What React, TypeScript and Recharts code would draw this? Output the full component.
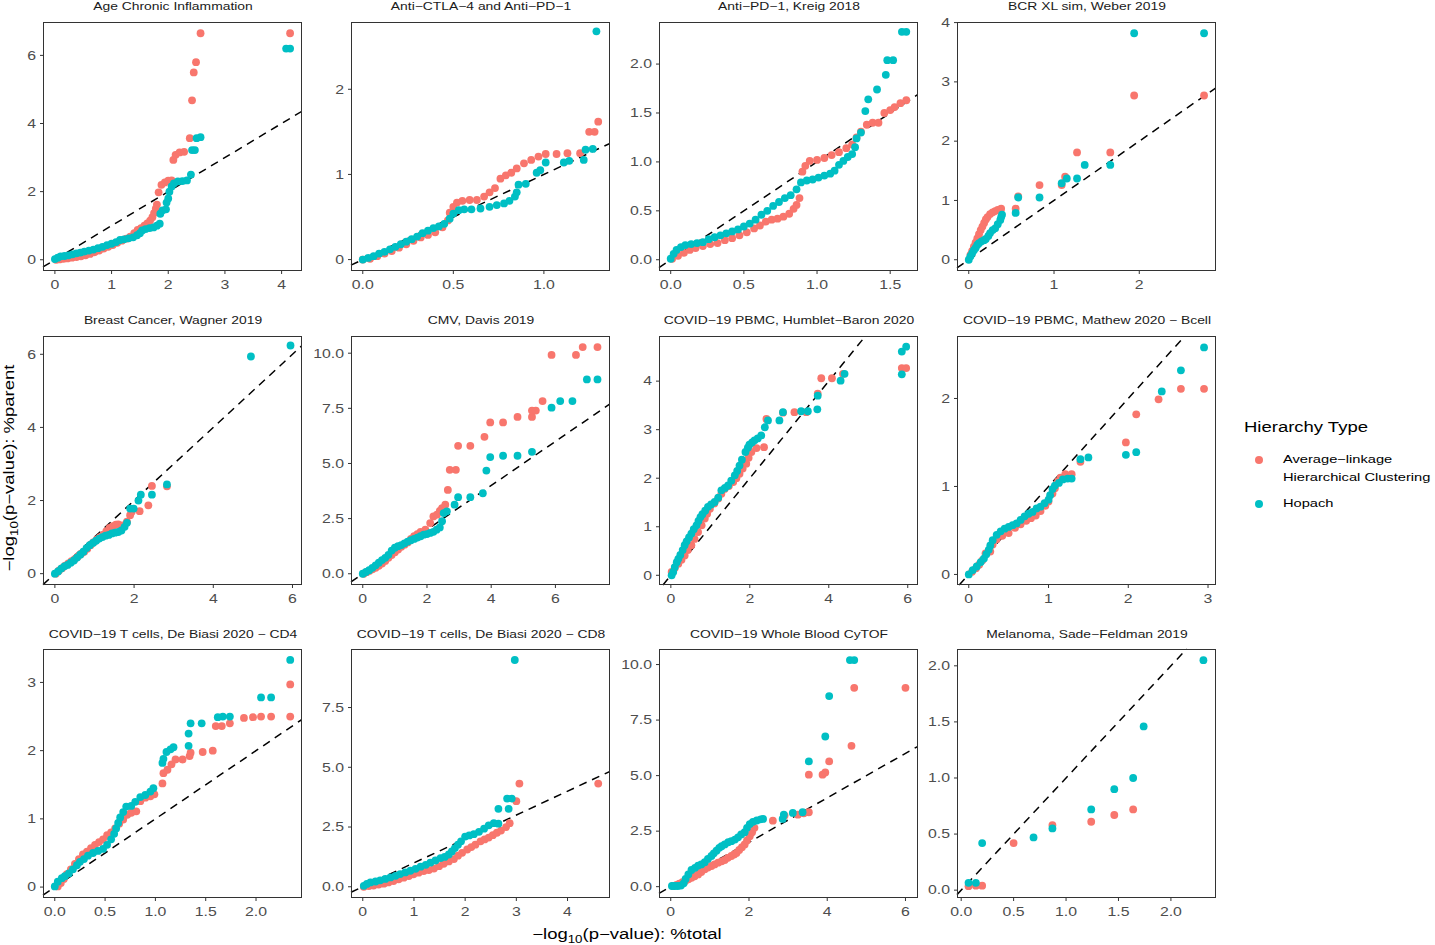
import React from 'react';
import { ScatterChart, Scatter, XAxis, YAxis, ReferenceLine } from 'recharts';

const RED = '#F8766D';
const TEAL = '#00BFC4';
const FONT = '"Liberation Sans", Arial, Helvetica, sans-serif';
const K = 1.32; // the reference text is drawn wide

type Pts = [number, number][];

// Age Chronic Inflammation
const ageRed: Pts = [[0.02,0.0],[0.08,0.01],[0.15,0.03],[0.22,0.04],[0.3,0.06],[0.38,0.08],[0.46,0.1],[0.54,0.13],[0.62,0.17],[0.7,0.22],[0.78,0.27],[0.86,0.33],[0.94,0.38],[1.02,0.43],[1.1,0.5],[1.18,0.56],[1.26,0.62],[1.33,0.68],[1.4,0.78],[1.46,0.88],[1.52,0.93],[1.58,1.0],[1.63,1.07],[1.68,1.15],[1.72,1.25],[1.75,1.37],[1.78,1.5],[1.8,1.62],[1.83,1.98],[1.88,2.2],[1.94,2.27],[2.0,2.32],[2.06,2.33],[2.09,2.93],[2.13,3.08],[2.2,3.15],[2.28,3.17],[2.38,3.57],[2.42,4.68],[2.45,5.5],[2.49,5.8],[2.57,6.65],[4.15,6.65]];
const ageTeal: Pts = [[0.0,0.02],[0.05,0.06],[0.1,0.1],[0.17,0.11],[0.24,0.13],[0.31,0.16],[0.38,0.19],[0.45,0.21],[0.52,0.24],[0.6,0.27],[0.68,0.3],[0.76,0.34],[0.84,0.38],[0.92,0.43],[1.0,0.47],[1.08,0.52],[1.15,0.58],[1.22,0.6],[1.3,0.63],[1.38,0.66],[1.45,0.72],[1.5,0.78],[1.54,0.86],[1.6,0.9],[1.67,0.93],[1.74,0.95],[1.8,1.0],[1.85,1.06],[1.86,1.35],[1.9,1.45],[1.96,1.48],[1.97,1.68],[2.0,1.8],[2.02,2.0],[2.06,2.15],[2.1,2.24],[2.17,2.3],[2.25,2.31],[2.33,2.33],[2.4,2.5],[2.42,3.22],[2.47,3.22],[2.5,3.57],[2.57,3.6],[4.08,6.2],[4.15,6.2]];

// Anti-CTLA-4 and Anti-PD-1
const ctlaRed: Pts = [[0.0,0.0],[0.04,0.01],[0.08,0.04],[0.12,0.07],[0.16,0.1],[0.2,0.14],[0.24,0.18],[0.28,0.22],[0.32,0.26],[0.36,0.29],[0.4,0.32],[0.44,0.38],[0.47,0.46],[0.48,0.55],[0.5,0.62],[0.52,0.67],[0.55,0.69],[0.59,0.7],[0.63,0.7],[0.67,0.74],[0.7,0.79],[0.73,0.84],[0.76,0.95],[0.79,0.99],[0.82,1.02],[0.85,1.07],[0.89,1.13],[0.93,1.17],[0.97,1.21],[1.01,1.24],[1.07,1.24],[1.13,1.25],[1.2,1.25],[1.25,1.5],[1.28,1.5],[1.3,1.62]];
const ctlaTeal: Pts = [[0.0,0.0],[0.03,0.02],[0.06,0.04],[0.09,0.07],[0.12,0.09],[0.15,0.12],[0.18,0.15],[0.21,0.18],[0.24,0.21],[0.27,0.24],[0.3,0.27],[0.33,0.31],[0.36,0.34],[0.39,0.37],[0.42,0.39],[0.45,0.42],[0.48,0.48],[0.5,0.54],[0.53,0.58],[0.56,0.59],[0.6,0.59],[0.65,0.6],[0.7,0.62],[0.74,0.64],[0.78,0.66],[0.81,0.69],[0.84,0.74],[0.85,0.79],[0.86,0.88],[0.9,0.89],[0.96,1.02],[0.98,1.05],[1.01,1.14],[1.11,1.14],[1.14,1.16],[1.22,1.17],[1.23,1.29],[1.27,1.3],[1.29,2.68]];

// Anti-PD-1, Kreig 2018
const kreigRed: Pts = [[0.01,0.01],[0.05,0.04],[0.09,0.07],[0.13,0.1],[0.17,0.12],[0.22,0.14],[0.27,0.16],[0.32,0.17],[0.37,0.2],[0.42,0.22],[0.47,0.25],[0.52,0.28],[0.57,0.32],[0.61,0.35],[0.65,0.39],[0.69,0.41],[0.73,0.42],[0.77,0.44],[0.81,0.47],[0.84,0.52],[0.86,0.56],[0.88,0.63],[0.9,0.9],[0.92,0.96],[0.95,1.01],[1.0,1.02],[1.05,1.04],[1.1,1.07],[1.15,1.1],[1.2,1.14],[1.24,1.18],[1.27,1.25],[1.3,1.31],[1.34,1.38],[1.38,1.4],[1.42,1.4],[1.46,1.5],[1.5,1.53],[1.53,1.56],[1.57,1.6],[1.61,1.63]];
const kreigTeal: Pts = [[0.0,0.01],[0.02,0.06],[0.04,0.1],[0.07,0.13],[0.1,0.15],[0.14,0.16],[0.18,0.17],[0.22,0.18],[0.26,0.21],[0.3,0.23],[0.34,0.25],[0.38,0.27],[0.42,0.29],[0.46,0.31],[0.5,0.34],[0.54,0.37],[0.58,0.41],[0.62,0.46],[0.66,0.5],[0.7,0.55],[0.74,0.59],[0.78,0.63],[0.82,0.66],[0.86,0.72],[0.89,0.79],[0.93,0.81],[0.97,0.82],[1.01,0.84],[1.05,0.86],[1.09,0.88],[1.12,0.91],[1.15,0.97],[1.18,1.01],[1.21,1.05],[1.24,1.08],[1.26,1.15],[1.27,1.24],[1.3,1.3],[1.33,1.52],[1.35,1.64],[1.41,1.74],[1.47,1.89],[1.48,2.04],[1.52,2.04],[1.58,2.33],[1.61,2.33]];

// BCR XL sim, Weber 2019
const bcrRed: Pts = [[0.02,0.08],[0.04,0.15],[0.06,0.22],[0.08,0.29],[0.1,0.36],[0.12,0.43],[0.14,0.5],[0.16,0.56],[0.18,0.62],[0.2,0.68],[0.22,0.72],[0.25,0.77],[0.28,0.8],[0.31,0.82],[0.34,0.84],[0.38,0.86],[0.55,0.86],[0.58,1.07],[0.83,1.26],[1.09,1.26],[1.13,1.4],[1.27,1.81],[1.66,1.81],[1.94,2.77],[2.76,2.77]];
const bcrTeal: Pts = [[0.0,0.0],[0.02,0.06],[0.04,0.11],[0.06,0.16],[0.08,0.2],[0.1,0.25],[0.12,0.28],[0.15,0.31],[0.18,0.33],[0.2,0.35],[0.23,0.4],[0.25,0.45],[0.28,0.5],[0.31,0.53],[0.34,0.6],[0.37,0.67],[0.38,0.72],[0.39,0.76],[0.55,0.79],[0.58,1.05],[0.83,1.05],[1.09,1.29],[1.15,1.37],[1.27,1.37],[1.36,1.6],[1.66,1.6],[1.94,3.82],[2.76,3.82]];

// Breast Cancer, Wagner 2019
const breastRed: Pts = [[0.02,0.0],[0.1,0.08],[0.18,0.15],[0.26,0.22],[0.34,0.28],[0.42,0.34],[0.5,0.4],[0.58,0.47],[0.66,0.54],[0.74,0.6],[0.82,0.68],[0.9,0.78],[0.98,0.86],[1.06,0.94],[1.14,1.0],[1.22,1.07],[1.3,1.16],[1.38,1.25],[1.46,1.3],[1.54,1.34],[1.6,1.35],[1.7,1.32],[1.82,1.42],[1.9,1.6],[1.94,1.69],[2.14,1.71],[2.36,1.87],[2.45,2.4],[2.83,2.39]];
const breastTeal: Pts = [[0.0,0.0],[0.08,0.06],[0.16,0.14],[0.24,0.2],[0.32,0.24],[0.4,0.3],[0.48,0.36],[0.56,0.44],[0.64,0.52],[0.72,0.6],[0.8,0.7],[0.88,0.78],[0.96,0.84],[1.04,0.9],[1.12,0.96],[1.2,1.0],[1.28,1.04],[1.36,1.06],[1.44,1.1],[1.52,1.12],[1.6,1.14],[1.68,1.18],[1.76,1.28],[1.82,1.39],[1.9,1.78],[1.99,1.78],[2.11,2.0],[2.17,2.16],[2.45,2.16],[2.83,2.44],[4.95,5.94],[5.95,6.24]];

// CMV, Davis 2019
const cmvRed: Pts = [[0.03,0.0],[0.12,0.07],[0.2,0.13],[0.3,0.2],[0.4,0.27],[0.5,0.36],[0.6,0.46],[0.7,0.58],[0.8,0.72],[0.9,0.85],[1.0,0.98],[1.1,1.1],[1.2,1.22],[1.3,1.32],[1.4,1.42],[1.5,1.58],[1.6,1.7],[1.7,1.8],[1.8,1.9],[1.95,2.0],[2.1,2.3],[2.2,2.6],[2.31,2.68],[2.4,2.85],[2.47,2.98],[2.57,3.13],[2.65,3.8],[2.71,4.71],[2.9,4.71],[2.97,5.8],[3.35,5.8],[3.79,6.21],[3.97,6.86],[4.37,6.86],[4.82,7.11],[5.27,7.11],[5.27,7.4],[5.39,7.4],[5.6,7.83],[5.88,9.92],[6.64,9.92],[6.85,10.28],[7.31,10.28]];
const cmvTeal: Pts = [[0.0,0.0],[0.1,0.08],[0.2,0.16],[0.3,0.27],[0.4,0.38],[0.5,0.5],[0.6,0.62],[0.7,0.72],[0.8,0.86],[0.9,1.05],[1.0,1.18],[1.1,1.25],[1.2,1.3],[1.3,1.38],[1.4,1.46],[1.5,1.52],[1.6,1.58],[1.7,1.64],[1.8,1.7],[1.9,1.77],[2.0,1.8],[2.1,1.85],[2.2,1.9],[2.3,2.0],[2.4,2.1],[2.47,2.38],[2.52,2.75],[2.62,2.83],[2.86,3.13],[2.97,3.47],[3.35,3.47],[3.74,3.65],[3.85,4.68],[3.97,5.29],[4.37,5.35],[4.82,5.35],[5.27,5.53],[5.88,7.53],[6.15,7.83],[6.53,7.83],[6.98,8.81],[7.31,8.81]];

// COVID-19 PBMC, Humblet-Baron 2020
const humRed: Pts = [[0.02,0.07],[0.1,0.15],[0.19,0.24],[0.27,0.32],[0.35,0.41],[0.43,0.52],[0.52,0.62],[0.6,0.75],[0.69,0.89],[0.78,1.03],[0.86,1.17],[0.92,1.27],[0.99,1.37],[1.1,1.48],[1.2,1.58],[1.28,1.68],[1.36,1.78],[1.47,1.84],[1.58,1.92],[1.66,2.0],[1.74,2.09],[1.82,2.2],[1.91,2.3],[1.97,2.42],[2.04,2.54],[2.17,2.62],[2.36,2.64],[2.42,3.22],[2.84,3.35],[3.13,3.36],[3.43,3.36],[3.72,3.74],[3.81,4.06],[4.08,4.06],[4.36,4.15],[5.85,4.27],[5.96,4.27]];
const humTeal: Pts = [[0.02,0.0],[0.06,0.07],[0.1,0.17],[0.15,0.27],[0.19,0.34],[0.24,0.42],[0.3,0.52],[0.35,0.62],[0.4,0.7],[0.46,0.78],[0.52,0.86],[0.58,0.95],[0.65,1.03],[0.7,1.12],[0.75,1.2],[0.8,1.26],[0.87,1.33],[0.94,1.41],[1.02,1.46],[1.11,1.51],[1.2,1.6],[1.28,1.75],[1.37,1.8],[1.45,1.85],[1.53,1.95],[1.62,2.06],[1.68,2.15],[1.74,2.26],[1.8,2.38],[1.89,2.54],[1.95,2.63],[1.99,2.69],[2.06,2.74],[2.12,2.78],[2.2,2.82],[2.29,2.88],[2.38,3.05],[2.46,3.19],[2.75,3.19],[2.84,3.36],[3.3,3.38],[3.47,3.38],[3.71,3.42],[3.72,3.7],[4.3,4.01],[4.4,4.15],[5.85,4.14],[5.85,4.61],[5.96,4.71]];

// COVID-19 PBMC, Mathew 2020 - Bcell
const mathRed: Pts = [[0.04,0.03],[0.09,0.07],[0.13,0.11],[0.17,0.16],[0.21,0.24],[0.27,0.26],[0.3,0.34],[0.35,0.4],[0.42,0.44],[0.5,0.47],[0.58,0.53],[0.65,0.57],[0.72,0.61],[0.78,0.64],[0.84,0.67],[0.9,0.72],[0.96,0.78],[1.0,0.83],[1.05,0.92],[1.08,0.98],[1.12,1.06],[1.15,1.1],[1.21,1.14],[1.29,1.14],[1.4,1.28],[1.97,1.5],[2.1,1.82],[2.38,1.99],[2.66,2.11],[2.95,2.11]];
const mathTeal: Pts = [[0.0,0.0],[0.05,0.05],[0.1,0.09],[0.15,0.14],[0.19,0.18],[0.22,0.23],[0.25,0.28],[0.27,0.33],[0.3,0.39],[0.35,0.45],[0.4,0.49],[0.45,0.52],[0.5,0.54],[0.55,0.56],[0.6,0.58],[0.65,0.62],[0.7,0.66],[0.75,0.69],[0.8,0.71],[0.85,0.75],[0.9,0.77],[0.95,0.81],[1.0,0.85],[1.02,0.9],[1.05,0.97],[1.08,1.01],[1.13,1.04],[1.18,1.08],[1.24,1.09],[1.29,1.09],[1.4,1.31],[1.5,1.33],[1.97,1.36],[2.1,1.39],[2.42,2.08],[2.66,2.32],[2.95,2.58]];

// COVID-19 T cells, De Biasi 2020 - CD4
const cd4Red: Pts = [[0.03,0.01],[0.06,0.06],[0.09,0.12],[0.12,0.19],[0.16,0.26],[0.2,0.34],[0.24,0.41],[0.28,0.48],[0.32,0.52],[0.36,0.57],[0.4,0.62],[0.44,0.66],[0.48,0.7],[0.52,0.76],[0.56,0.8],[0.6,0.86],[0.64,0.93],[0.68,0.99],[0.72,1.06],[0.76,1.09],[0.81,1.11],[0.85,1.26],[0.9,1.31],[0.95,1.33],[0.99,1.36],[1.07,1.52],[1.08,1.67],[1.12,1.72],[1.16,1.8],[1.2,1.87],[1.27,1.87],[1.34,1.92],[1.35,1.97],[1.47,1.98],[1.57,2.0],[1.6,2.36],[1.66,2.36],[1.74,2.4],[1.88,2.48],[1.97,2.49],[2.05,2.5],[2.15,2.5],[2.34,2.5],[2.34,2.97]];
const cd4Teal: Pts = [[0.0,0.01],[0.03,0.08],[0.07,0.13],[0.1,0.16],[0.14,0.2],[0.18,0.26],[0.22,0.32],[0.25,0.37],[0.29,0.41],[0.33,0.46],[0.38,0.5],[0.43,0.53],[0.48,0.56],[0.52,0.62],[0.56,0.7],[0.59,0.78],[0.61,0.86],[0.63,0.94],[0.65,1.02],[0.68,1.1],[0.71,1.18],[0.76,1.19],[0.8,1.25],[0.85,1.32],[0.9,1.35],[0.95,1.4],[0.98,1.45],[1.07,1.82],[1.08,1.88],[1.11,1.98],[1.15,2.02],[1.18,2.05],[1.33,2.07],[1.33,2.25],[1.35,2.4],[1.46,2.4],[1.62,2.49],[1.67,2.5],[1.74,2.5],[2.05,2.78],[2.15,2.78],[2.34,3.33]];

// COVID-19 T cells, De Biasi 2020 - CD8
const cd8Red: Pts = [[0.02,0.0],[0.12,0.03],[0.21,0.05],[0.31,0.09],[0.41,0.13],[0.5,0.18],[0.6,0.24],[0.7,0.31],[0.8,0.38],[0.9,0.45],[0.99,0.52],[1.09,0.59],[1.19,0.66],[1.29,0.7],[1.39,0.76],[1.49,0.86],[1.58,0.96],[1.68,1.06],[1.78,1.16],[1.86,1.3],[1.94,1.42],[2.04,1.56],[2.12,1.66],[2.2,1.76],[2.3,1.9],[2.38,1.98],[2.46,2.06],[2.54,2.16],[2.62,2.26],[2.7,2.35],[2.8,2.5],[2.87,2.66],[3.0,3.58],[3.06,4.32],[4.6,4.32]];
const cd8Teal: Pts = [[0.02,0.04],[0.08,0.12],[0.15,0.18],[0.25,0.22],[0.34,0.27],[0.44,0.33],[0.54,0.39],[0.64,0.46],[0.73,0.53],[0.83,0.6],[0.93,0.67],[1.03,0.75],[1.13,0.84],[1.23,0.92],[1.32,1.01],[1.42,1.1],[1.52,1.2],[1.6,1.25],[1.68,1.35],[1.74,1.48],[1.8,1.62],[1.86,1.76],[1.92,1.9],[2.0,2.1],[2.08,2.15],[2.17,2.2],[2.27,2.3],[2.37,2.43],[2.46,2.57],[2.56,2.66],[2.65,2.64],[2.65,3.26],[2.85,3.26],[2.82,3.69],[2.91,3.69],[2.97,9.49]];

// COVID-19 Whole Blood CyTOF
const cytofRed: Pts = [[0.07,0.03],[0.15,0.08],[0.22,0.14],[0.3,0.2],[0.37,0.26],[0.45,0.33],[0.53,0.4],[0.61,0.47],[0.7,0.55],[0.78,0.66],[0.87,0.78],[0.95,0.86],[1.04,0.93],[1.12,1.0],[1.21,1.08],[1.3,1.14],[1.38,1.2],[1.46,1.3],[1.55,1.38],[1.62,1.45],[1.68,1.52],[1.75,1.65],[1.82,1.78],[1.89,1.9],[1.95,2.08],[2.02,2.27],[2.08,2.45],[2.14,2.65],[2.61,2.97],[2.91,3.2],[3.25,3.24],[3.4,3.3],[3.53,3.35],[3.53,5.04],[3.88,5.04],[3.95,5.14],[4.05,5.64],[4.62,6.34],[4.69,8.95],[6.0,8.95]];
const cytofTeal: Pts = [[0.03,0.03],[0.1,0.03],[0.18,0.03],[0.26,0.05],[0.33,0.15],[0.38,0.35],[0.45,0.55],[0.53,0.75],[0.62,0.85],[0.7,0.95],[0.78,1.0],[0.87,1.1],[0.95,1.25],[1.04,1.38],[1.1,1.5],[1.17,1.62],[1.24,1.75],[1.3,1.82],[1.38,1.9],[1.47,2.0],[1.55,2.05],[1.64,2.12],[1.72,2.22],[1.8,2.35],[1.89,2.45],[1.95,2.65],[2.02,2.82],[2.1,2.92],[2.2,2.98],[2.3,3.03],[2.36,3.05],[2.86,3.05],[2.89,3.24],[3.12,3.32],[3.37,3.35],[3.53,5.64],[3.95,6.76],[4.05,8.58],[4.58,10.2],[4.69,10.2]];

// Melanoma, Sade-Feldman 2019
const melRed: Pts = [[0.07,0.035],[0.14,0.04],[0.2,0.04],[0.5,0.42],[0.87,0.58],[1.24,0.61],[1.46,0.67],[1.64,0.72]];
const melTeal: Pts = [[0.07,0.065],[0.14,0.065],[0.2,0.42],[0.69,0.47],[0.87,0.55],[1.24,0.72],[1.46,0.9],[1.64,1.0],[1.74,1.46],[2.31,2.05]];

const titles = [
  'Age Chronic Inflammation',
  'Anti\u2212CTLA\u22124 and Anti\u2212PD\u22121',
  'Anti\u2212PD\u22121, Kreig 2018',
  'BCR XL sim, Weber 2019',
  'Breast Cancer, Wagner 2019',
  'CMV, Davis 2019',
  'COVID\u221219 PBMC, Humblet\u2212Baron 2020',
  'COVID\u221219 PBMC, Mathew 2020 \u2212 Bcell',
  'COVID\u221219 T cells, De Biasi 2020 \u2212 CD4',
  'COVID\u221219 T cells, De Biasi 2020 \u2212 CD8',
  'COVID\u221219 Whole Blood CyTOF',
  'Melanoma, Sade\u2212Feldman 2019',
];

const t0to4 = [0, 1, 2, 3, 4];
const t0to3 = [0, 1, 2, 3];
const t0to2 = [0, 1, 2];
const tEven6 = [0, 2, 4, 6];
const tHalf1 = [0, 0.5, 1];
const tHalf15 = [0, 0.5, 1, 1.5];
const tHalf2 = [0, 0.5, 1, 1.5, 2];
const tQuarter10 = [0, 2.5, 5, 7.5, 10];
const tQuarter75 = [0, 2.5, 5, 7.5];

const panels = [
  { red: ageRed, teal: ageTeal, xd: [-0.21, 4.36], yd: [-0.33, 6.98], xt: t0to4, yt: [0, 2, 4, 6], xdec: 0, ydec: 0 },
  { red: ctlaRed, teal: ctlaTeal, xd: [-0.065, 1.365], yd: [-0.134, 2.79], xt: tHalf1, yt: t0to2, xdec: 1, ydec: 0 },
  { red: kreigRed, teal: kreigTeal, xd: [-0.08, 1.69], yd: [-0.115, 2.43], xt: tHalf15, yt: tHalf2, xdec: 1, ydec: 1 },
  { red: bcrRed, teal: bcrTeal, xd: [-0.138, 2.9], yd: [-0.19, 4.01], xt: t0to2, yt: t0to4, xdec: 0, ydec: 0 },
  { red: breastRed, teal: breastTeal, xd: [-0.3, 6.24], yd: [-0.31, 6.5], xt: tEven6, yt: [0, 2, 4, 6], xdec: 0, ydec: 0 },
  { red: cmvRed, teal: cmvTeal, xd: [-0.366, 7.7], yd: [-0.51, 10.78], xt: tEven6, yt: tQuarter10, xdec: 0, ydec: 1 },
  { red: humRed, teal: humTeal, xd: [-0.3, 6.26], yd: [-0.2, 4.93], xt: tEven6, yt: t0to4, xdec: 0, ydec: 0 },
  { red: mathRed, teal: mathTeal, xd: [-0.1475, 3.1], yd: [-0.12, 2.71], xt: t0to3, yt: t0to2, xdec: 0, ydec: 0 },
  { red: cd4Red, teal: cd4Teal, xd: [-0.117, 2.457], yd: [-0.16, 3.49], xt: tHalf2, yt: t0to3, xdec: 1, ydec: 0 },
  { red: cd8Red, teal: cd8Teal, xd: [-0.23, 4.83], yd: [-0.47, 9.95], xt: t0to4, yt: tQuarter75, xdec: 0, ydec: 1 },
  { red: cytofRed, teal: cytofTeal, xd: [-0.3, 6.32], yd: [-0.51, 10.7], xt: tEven6, yt: tQuarter10, xdec: 0, ydec: 1 },
  { red: melRed, teal: melTeal, xd: [-0.04, 2.43], yd: [-0.07, 2.15], xt: tHalf2, yt: tHalf2, xdec: 1, ydec: 1 },
];

const COLS = [43, 351, 659, 957];
const ROWS = [22, 336, 649];
const TITLE_Y = [6, 320, 634];
const PW = 259;
const PH = 249;
const AXW = 50;
const AXH = 26;
const PAD = 10; // room above the plot so top tick labels are not cut

const toPts = (a: Pts) => a.map(([x, y]) => ({ x, y }));

function XTick(props: any) {
  const { x, y, payload, dec } = props;
  return (
    <g transform={`translate(${x},${y})`}>
      <text transform={`scale(${K},1)`} textAnchor="middle" dy={11} fill="#4d4d4d" fontSize={12} fontFamily={FONT}>
        {Number(payload.value).toFixed(dec)}
      </text>
    </g>
  );
}

function YTick(props: any) {
  const { x, y, payload, dec } = props;
  return (
    <g transform={`translate(${x},${y})`}>
      <text transform={`scale(${K},1)`} textAnchor="end" dy={4.3} fill="#4d4d4d" fontSize={12} fontFamily={FONT}>
        {Number(payload.value).toFixed(dec)}
      </text>
    </g>
  );
}

const dot = (c: string) => (p: any) => <circle cx={p.cx} cy={p.cy} r={3.9} fill={c} />;

function Wide({ x, y, size, children, color = '#000', anchor = 'middle', rotate = false }: any) {
  const tr = rotate
    ? `translate(-50%,-50%) rotate(-90deg) scaleX(${K})`
    : anchor === 'start'
    ? `translateY(-50%) scaleX(${K})`
    : `translate(-50%,-50%) scaleX(${K})`;
  return (
    <div
      style={{
        position: 'absolute',
        left: x,
        top: y,
        transform: tr,
        transformOrigin: anchor === 'start' ? 'left center' : 'center center',
        whiteSpace: 'nowrap',
        fontFamily: FONT,
        fontSize: size,
        color,
        lineHeight: 1,
      }}
    >
      {children}
    </div>
  );
}

function Panel({ i }: { i: number }) {
  const p = panels[i];
  const left = COLS[i % 4];
  const top = ROWS[Math.floor(i / 4)];
  const lo = Math.max(p.xd[0], p.yd[0]);
  const hi = Math.min(p.xd[1], p.yd[1]);
  return (
    <>
      <div style={{ position: 'absolute', left: left - AXW, top: top - PAD }}>
        <ScatterChart width={AXW + PW} height={PH + AXH + PAD} margin={{ top: PAD, right: 0, bottom: 0, left: 0 }}>
          <XAxis
            type="number"
            dataKey="x"
            domain={p.xd}
            ticks={p.xt}
            allowDataOverflow
            interval={0}
            height={AXH}
            axisLine={false}
            tickSize={3}
            tickMargin={4}
            tickLine={{ stroke: '#333' }}
            tick={(t: any) => <XTick {...t} dec={p.xdec} />}
          />
          <YAxis
            type="number"
            dataKey="y"
            domain={p.yd}
            ticks={p.yt}
            allowDataOverflow
            interval={0}
            width={AXW}
            axisLine={false}
            tickSize={3}
            tickMargin={4}
            tickLine={{ stroke: '#333' }}
            tick={(t: any) => <YTick {...t} dec={p.ydec} />}
          />
          <Scatter data={toPts(p.red)} fill={RED} shape={dot(RED)} isAnimationActive={false} />
          <Scatter data={toPts(p.teal)} fill={TEAL} shape={dot(TEAL)} isAnimationActive={false} />
          <ReferenceLine
            segment={[{ x: lo, y: lo }, { x: hi, y: hi }]}
            stroke="#000"
            strokeWidth={1.5}
            strokeDasharray="8 6"
          />
        </ScatterChart>
      </div>
      <div
        style={{
          position: 'absolute',
          left,
          top,
          width: PW,
          height: PH,
          border: '1px solid #333',
          boxSizing: 'border-box',
          pointerEvents: 'none',
        }}
      />
      <Wide x={left + PW / 2} y={TITLE_Y[Math.floor(i / 4)]} size={10.5} color="#1a1a1a">
        {titles[i]}
      </Wide>
    </>
  );
}

export default function App() {
  return (
    <div style={{ position: 'absolute', left: 0, top: 0, width: 1435, height: 945, background: '#fff', overflow: 'hidden' }}>
      {panels.map((_, i) => (
        <Panel key={i} i={i} />
      ))}
      <Wide x={627} y={934} size={14}>
        {'\u2212log'}
        <span style={{ fontSize: '0.72em', position: 'relative', top: '0.35em' }}>10</span>
        {'(p\u2212value): %total'}
      </Wide>
      <Wide x={9} y={468} size={14} rotate>
        {'\u2212log'}
        <span style={{ fontSize: '0.72em', position: 'relative', top: '0.35em' }}>10</span>
        {'(p\u2212value): %parent'}
      </Wide>
      <Wide x={1244} y={427} size={14} anchor="start">
        Hierarchy Type
      </Wide>
      <div style={{ position: 'absolute', left: 1255, top: 456, width: 8, height: 8, borderRadius: 4, background: RED }} />
      <div style={{ position: 'absolute', left: 1255, top: 500, width: 8, height: 8, borderRadius: 4, background: TEAL }} />
      <Wide x={1283} y={460} size={11.1} anchor="start">
        {'Average\u2212linkage'}
      </Wide>
      <Wide x={1283} y={478} size={11.1} anchor="start">
        Hierarchical Clustering
      </Wide>
      <Wide x={1283} y={504} size={11.1} anchor="start">
        Hopach
      </Wide>
    </div>
  );
}
